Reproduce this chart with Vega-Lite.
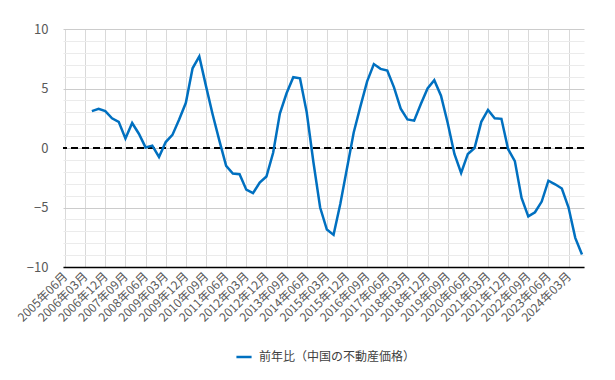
{
  "$schema": "https://vega.github.io/schema/vega-lite/v6.json",
  "width": 521,
  "height": 238,
  "autosize": {"type": "none"},
  "padding": {"left": 63, "top": 29, "right": 31, "bottom": 113},
  "background": "white",
  "config": {
    "view": {"stroke": null},
    "font": "Noto Sans CJK JP"
  },
  "data": {
    "values": [
      {"d": "2006年06月", "v": 3.1, "s": "前年比（中国の不動産価格）"},
      {"d": "2006年09月", "v": 3.3, "s": "前年比（中国の不動産価格）"},
      {"d": "2006年12月", "v": 3.1, "s": "前年比（中国の不動産価格）"},
      {"d": "2007年03月", "v": 2.5, "s": "前年比（中国の不動産価格）"},
      {"d": "2007年06月", "v": 2.2, "s": "前年比（中国の不動産価格）"},
      {"d": "2007年09月", "v": 0.8, "s": "前年比（中国の不動産価格）"},
      {"d": "2007年12月", "v": 2.1, "s": "前年比（中国の不動産価格）"},
      {"d": "2008年03月", "v": 1.2, "s": "前年比（中国の不動産価格）"},
      {"d": "2008年06月", "v": 0.05, "s": "前年比（中国の不動産価格）"},
      {"d": "2008年09月", "v": 0.2, "s": "前年比（中国の不動産価格）"},
      {"d": "2008年12月", "v": -0.75, "s": "前年比（中国の不動産価格）"},
      {"d": "2009年03月", "v": 0.5, "s": "前年比（中国の不動産価格）"},
      {"d": "2009年06月", "v": 1.1, "s": "前年比（中国の不動産価格）"},
      {"d": "2009年09月", "v": 2.4, "s": "前年比（中国の不動産価格）"},
      {"d": "2009年12月", "v": 3.8, "s": "前年比（中国の不動産価格）"},
      {"d": "2010年03月", "v": 6.7, "s": "前年比（中国の不動産価格）"},
      {"d": "2010年06月", "v": 7.7, "s": "前年比（中国の不動産価格）"},
      {"d": "2010年09月", "v": 5.2, "s": "前年比（中国の不動産価格）"},
      {"d": "2010年12月", "v": 2.8, "s": "前年比（中国の不動産価格）"},
      {"d": "2011年03月", "v": 0.6, "s": "前年比（中国の不動産価格）"},
      {"d": "2011年06月", "v": -1.5, "s": "前年比（中国の不動産価格）"},
      {"d": "2011年09月", "v": -2.15, "s": "前年比（中国の不動産価格）"},
      {"d": "2011年12月", "v": -2.2, "s": "前年比（中国の不動産価格）"},
      {"d": "2012年03月", "v": -3.5, "s": "前年比（中国の不動産価格）"},
      {"d": "2012年06月", "v": -3.8, "s": "前年比（中国の不動産価格）"},
      {"d": "2012年09月", "v": -2.9, "s": "前年比（中国の不動産価格）"},
      {"d": "2012年12月", "v": -2.4, "s": "前年比（中国の不動産価格）"},
      {"d": "2013年03月", "v": -0.4, "s": "前年比（中国の不動産価格）"},
      {"d": "2013年06月", "v": 2.9, "s": "前年比（中国の不動産価格）"},
      {"d": "2013年09月", "v": 4.6, "s": "前年比（中国の不動産価格）"},
      {"d": "2013年12月", "v": 5.95, "s": "前年比（中国の不動産価格）"},
      {"d": "2014年03月", "v": 5.85, "s": "前年比（中国の不動産価格）"},
      {"d": "2014年06月", "v": 3.0, "s": "前年比（中国の不動産価格）"},
      {"d": "2014年09月", "v": -1.2, "s": "前年比（中国の不動産価格）"},
      {"d": "2014年12月", "v": -5.0, "s": "前年比（中国の不動産価格）"},
      {"d": "2015年03月", "v": -6.85, "s": "前年比（中国の不動産価格）"},
      {"d": "2015年06月", "v": -7.3, "s": "前年比（中国の不動産価格）"},
      {"d": "2015年09月", "v": -4.7, "s": "前年比（中国の不動産価格）"},
      {"d": "2015年12月", "v": -1.7, "s": "前年比（中国の不動産価格）"},
      {"d": "2016年03月", "v": 1.3, "s": "前年比（中国の不動産価格）"},
      {"d": "2016年06月", "v": 3.5, "s": "前年比（中国の不動産価格）"},
      {"d": "2016年09月", "v": 5.6, "s": "前年比（中国の不動産価格）"},
      {"d": "2016年12月", "v": 7.05, "s": "前年比（中国の不動産価格）"},
      {"d": "2017年03月", "v": 6.65, "s": "前年比（中国の不動産価格）"},
      {"d": "2017年06月", "v": 6.5, "s": "前年比（中国の不動産価格）"},
      {"d": "2017年09月", "v": 5.1, "s": "前年比（中国の不動産価格）"},
      {"d": "2017年12月", "v": 3.3, "s": "前年比（中国の不動産価格）"},
      {"d": "2018年03月", "v": 2.4, "s": "前年比（中国の不動産価格）"},
      {"d": "2018年06月", "v": 2.3, "s": "前年比（中国の不動産価格）"},
      {"d": "2018年09月", "v": 3.7, "s": "前年比（中国の不動産価格）"},
      {"d": "2018年12月", "v": 5.0, "s": "前年比（中国の不動産価格）"},
      {"d": "2019年03月", "v": 5.7, "s": "前年比（中国の不動産価格）"},
      {"d": "2019年06月", "v": 4.4, "s": "前年比（中国の不動産価格）"},
      {"d": "2019年09月", "v": 2.1, "s": "前年比（中国の不動産価格）"},
      {"d": "2019年12月", "v": -0.5, "s": "前年比（中国の不動産価格）"},
      {"d": "2020年03月", "v": -2.1, "s": "前年比（中国の不動産価格）"},
      {"d": "2020年06月", "v": -0.5, "s": "前年比（中国の不動産価格）"},
      {"d": "2020年09月", "v": 0.0, "s": "前年比（中国の不動産価格）"},
      {"d": "2020年12月", "v": 2.2, "s": "前年比（中国の不動産価格）"},
      {"d": "2021年03月", "v": 3.2, "s": "前年比（中国の不動産価格）"},
      {"d": "2021年06月", "v": 2.5, "s": "前年比（中国の不動産価格）"},
      {"d": "2021年09月", "v": 2.45, "s": "前年比（中国の不動産価格）"},
      {"d": "2021年12月", "v": -0.1, "s": "前年比（中国の不動産価格）"},
      {"d": "2022年03月", "v": -1.1, "s": "前年比（中国の不動産価格）"},
      {"d": "2022年06月", "v": -4.2, "s": "前年比（中国の不動産価格）"},
      {"d": "2022年09月", "v": -5.75, "s": "前年比（中国の不動産価格）"},
      {"d": "2022年12月", "v": -5.4, "s": "前年比（中国の不動産価格）"},
      {"d": "2023年03月", "v": -4.5, "s": "前年比（中国の不動産価格）"},
      {"d": "2023年06月", "v": -2.75, "s": "前年比（中国の不動産価格）"},
      {"d": "2023年09月", "v": -3.05, "s": "前年比（中国の不動産価格）"},
      {"d": "2023年12月", "v": -3.4, "s": "前年比（中国の不動産価格）"},
      {"d": "2024年03月", "v": -5.0, "s": "前年比（中国の不動産価格）"},
      {"d": "2024年06月", "v": -7.55, "s": "前年比（中国の不動産価格）"},
      {"d": "2024年09月", "v": -8.95, "s": "前年比（中国の不動産価格）"}
    ]
  },
  "resolve": {"axis": {"y": "independent"}},
  "layer": [
    {
      "mark": {"type": "rule", "color": "#000000", "strokeWidth": 2, "strokeDash": [7, 4]},
      "encoding": {
        "y": {
          "datum": 0,
          "type": "quantitative",
          "scale": {"domain": [-10, 10], "nice": false, "zero": false},
          "axis": {
            "orient": "right",
            "title": null,
            "values": [-9,-8,-7,-6,-4,-3,-2,-1,1,2,3,4,6,7,8,9],
            "labels": false,
            "ticks": false,
            "domain": false,
            "grid": true,
            "gridColor": "#ebebeb",
            "gridWidth": 1,
            "zindex": 0
          }
        }
      }
    },
    {
      "mark": {"type": "line", "strokeWidth": 2.5, "clip": true},
      "encoding": {
        "x": {
          "field": "d",
          "type": "nominal",
          "sort": null,
          "scale": {
            "type": "point",
            "padding": 0.3,
            "domain": ["2005年06月","2005年09月","2005年12月","2006年03月","2006年06月","2006年09月","2006年12月","2007年03月","2007年06月","2007年09月","2007年12月","2008年03月","2008年06月","2008年09月","2008年12月","2009年03月","2009年06月","2009年09月","2009年12月","2010年03月","2010年06月","2010年09月","2010年12月","2011年03月","2011年06月","2011年09月","2011年12月","2012年03月","2012年06月","2012年09月","2012年12月","2013年03月","2013年06月","2013年09月","2013年12月","2014年03月","2014年06月","2014年09月","2014年12月","2015年03月","2015年06月","2015年09月","2015年12月","2016年03月","2016年06月","2016年09月","2016年12月","2017年03月","2017年06月","2017年09月","2017年12月","2018年03月","2018年06月","2018年09月","2018年12月","2019年03月","2019年06月","2019年09月","2019年12月","2020年03月","2020年06月","2020年09月","2020年12月","2021年03月","2021年06月","2021年09月","2021年12月","2022年03月","2022年06月","2022年09月","2022年12月","2023年03月","2023年06月","2023年09月","2023年12月","2024年03月","2024年06月","2024年09月"]
          },
          "axis": {
            "title": null,
            "values": ["2005年06月","2006年03月","2006年12月","2007年09月","2008年06月","2009年03月","2009年12月","2010年09月","2011年06月","2012年03月","2012年12月","2013年09月","2014年06月","2015年03月","2015年12月","2016年09月","2017年06月","2018年03月","2018年12月","2019年09月","2020年06月","2021年03月","2021年12月","2022年09月","2023年06月","2024年03月"],
            "labelAngle": -45,
            "labelAlign": "right",
            "labelBaseline": "middle",
            "labelPadding": 7,
            "labelFontSize": 12,
            "labelColor": "#595959",
            "labelOverlap": false,
            "ticks": false,
            "domain": true,
            "domainColor": "#000000",
            "domainWidth": 1.5,
            "grid": true,
            "gridColor": "#d9d9d9",
            "gridWidth": 1,
            "zindex": 0
          }
        },
        "y": {
          "field": "v",
          "type": "quantitative",
          "scale": {"domain": [-10, 10], "nice": false, "zero": false},
          "axis": {
            "orient": "left",
            "title": null,
            "values": [-10, -5, 0, 5, 10],
            "labelOverlap": false,
            "labelFontSize": 13,
            "labelColor": "#595959",
            "labelPadding": 15,
            "ticks": false,
            "domain": false,
            "grid": true,
            "gridColor": "#cccccc",
            "gridWidth": 1,
            "zindex": 0
          }
        },
        "color": {
          "field": "s",
          "type": "nominal",
          "scale": {"range": ["#0070C0"]},
          "legend": {
            "title": null,
            "orient": "none",
            "legendX": 172,
            "legendY": 319,
            "symbolType": "stroke",
            "symbolStrokeWidth": 2.5,
            "symbolSize": 230,
            "labelFontSize": 12,
            "labelColor": "#404040",
            "labelOffset": 6,
            "padding": 0
          }
        }
      }
    }
  ]
}
